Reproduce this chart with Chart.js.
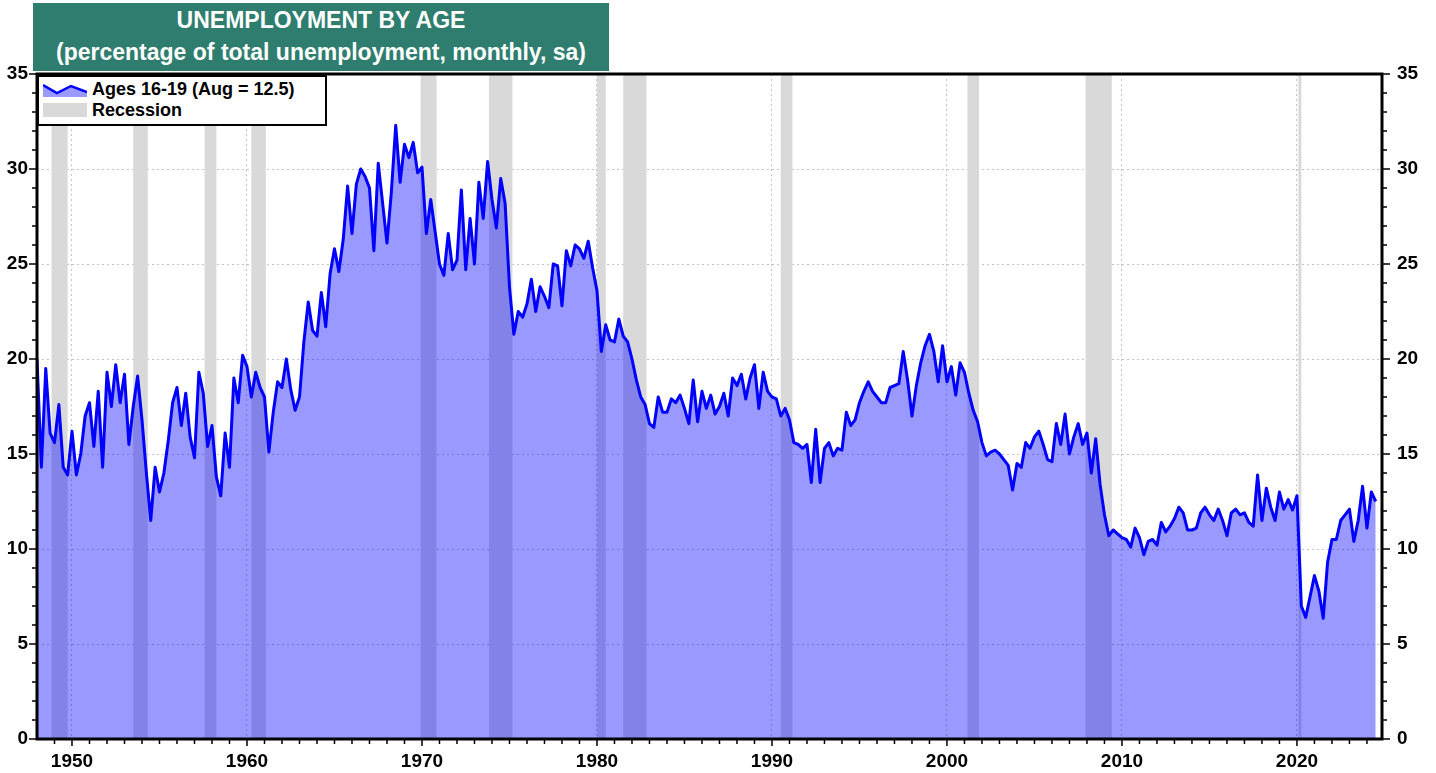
<!DOCTYPE html>
<html>
<head>
<meta charset="utf-8">
<script src="https://cdn.jsdelivr.net/npm/chart.js@4.4.1/dist/chart.umd.min.js"></script>
<style>
  html, body { margin: 0; padding: 0; background: #fff; }
  body { width: 1436px; height: 773px; position: relative; overflow: hidden; font-family: "Liberation Sans", Arial, sans-serif; }
  #chart { position: absolute; left: 0; top: 0; }
  .title { position: absolute; left: 33px; top: 3px; width: 576px; height: 68px; background: #2e7d6f; color: #fff; font-weight: bold; text-align: center; font-size: 23px; }
  .title div { position: absolute; left: 0; right: 0; line-height: 28px; }
  .legend { position: absolute; left: 37px; top: 75px; width: 286px; height: 47px; border: 2px solid #000; background: #fff; font-weight: bold; font-size: 18px; }
  .legend .row { position: absolute; left: 53px; line-height: 20px; }
</style>
</head>
<body>
<canvas id="chart" width="1436" height="773"></canvas>
<div class="title">
  <div style="top:3px;">UNEMPLOYMENT BY AGE</div>
  <div style="top:35px;">(percentage of total unemployment, monthly, sa)</div>
</div>
<div class="legend">
  <svg style="position:absolute;left:4px;top:5px" width="44" height="15">
    <polygon points="0,3 14,11 28,4 44,10 44,15 0,15" fill="rgba(0,0,255,0.4)"></polygon>
    <polyline points="0,3 14,11 28,4 44,10" fill="none" stroke="#0000ff" stroke-width="2.5"></polyline>
  </svg>
  <div class="row" style="top:2px;">Ages 16-19 (Aug = 12.5)</div>
  <div style="position:absolute;left:4px;top:26px;width:44px;height:14px;background:#d9d9d9;"></div>
  <div class="row" style="top:23px;">Recession</div>
</div>
<script>
// quarterly readings, first value is Q1 1948
const startYear = 1948;
const shares1940s = [
  20.0, 14.3, 19.5, 16.1,
  15.6, 17.6, 14.3, 13.9
];
const shares1950s = [
  16.2, 13.9, 15.0, 17.0,
  17.7, 15.4, 18.3, 14.3,
  19.3, 17.5, 19.7, 17.7,
  19.2, 15.5, 17.5, 19.1,
  16.8, 14.0, 11.5, 14.3,
  13.0, 14.0, 15.7, 17.7,
  18.5, 16.5, 18.2, 15.9,
  14.8, 19.3, 18.2, 15.4,
  16.5, 13.8, 12.8, 16.1,
  14.3, 19.0, 17.7, 20.2
];
const shares1960s = [
  19.6, 18.0, 19.3, 18.5,
  18.0, 15.1, 17.2, 18.8,
  18.5, 20.0, 18.4, 17.3,
  18.0, 20.9, 23.0, 21.5,
  21.2, 23.5, 21.7, 24.5,
  25.8, 24.6, 26.3, 29.1,
  26.6, 29.2, 30.0, 29.6,
  29.0, 25.7, 30.3, 28.2,
  26.1, 28.8, 32.3, 29.3,
  31.3, 30.6, 31.4, 29.8
];
const shares1970s = [
  30.1, 26.6, 28.4, 26.7,
  25.0, 24.4, 26.6, 24.7,
  25.2, 28.9, 24.7, 27.4,
  25.0, 29.3, 27.4, 30.4,
  28.4, 26.9, 29.5, 28.2,
  23.8, 21.3, 22.5, 22.2,
  22.9, 24.2, 22.5, 23.8,
  23.3, 22.7, 25.0, 24.9,
  22.8, 25.7, 24.9, 26.0,
  25.8, 25.3, 26.2, 24.8
];
const shares1980s = [
  23.6, 20.4, 21.8, 21.0,
  20.9, 22.1, 21.2, 20.9,
  20.0, 18.9, 18.0, 17.6,
  16.6, 16.4, 18.0, 17.2,
  17.2, 17.9, 17.7, 18.1,
  17.4, 16.6, 18.9, 16.7,
  18.3, 17.4, 18.1, 17.1,
  17.5, 18.2, 17.0, 19.0,
  18.6, 19.2, 17.9, 19.0,
  19.7, 17.4, 19.3, 18.3
];
const shares1990s = [
  18.0, 17.9, 17.0, 17.4,
  16.8, 15.6, 15.5, 15.3,
  15.5, 13.5, 16.3, 13.5,
  15.3, 15.6, 14.9, 15.3,
  15.2, 17.2, 16.5, 16.8,
  17.7, 18.3, 18.8, 18.3,
  18.0, 17.7, 17.7, 18.5,
  18.6, 18.7, 20.4, 18.9,
  17.0, 18.6, 19.8, 20.7,
  21.3, 20.4, 18.8, 20.7
];
const shares2000s = [
  18.8, 19.6, 18.1, 19.8,
  19.3, 18.2, 17.3, 16.7,
  15.6, 14.9, 15.1, 15.2,
  15.0, 14.7, 14.4, 13.1,
  14.5, 14.3, 15.6, 15.3,
  15.9, 16.2, 15.5, 14.7,
  14.6, 16.6, 15.5, 17.1,
  15.0, 15.9, 16.6, 15.5,
  16.1, 14.0, 15.8, 13.4,
  11.8, 10.7, 11.0, 10.8
];
const shares2010s = [
  10.6, 10.5, 10.1, 11.1,
  10.6, 9.7, 10.4, 10.5,
  10.2, 11.4, 10.9, 11.2,
  11.6, 12.2, 11.9, 11.0,
  11.0, 11.1, 11.9, 12.2,
  11.8, 11.5, 12.1, 11.5,
  10.7, 11.9, 12.1, 11.8,
  11.9, 11.4, 11.2, 13.9,
  11.5, 13.2, 12.2, 11.5,
  13.0, 12.1, 12.6, 12.05
];
const shares2020s = [
  12.8, 7.0, 6.4, 7.5,
  8.6, 7.8, 6.35, 9.3,
  10.5, 10.5, 11.5, 11.8,
  12.1, 10.4, 11.5, 13.3,
  11.1, 13.0, 12.5
];

const recessionStart = [1948.83, 1953.5, 1957.58, 1960.25, 1969.92, 1973.83, 1980.0, 1981.5, 1990.5, 2001.17, 2007.92, 2020.08];
const recessionEnd = [1949.75, 1954.33, 1958.25, 1961.08, 1970.83, 1975.17, 1980.5, 1982.83, 1991.17, 2001.83, 2009.42, 2020.25];

const yearTicks = [1950, 1960, 1970, 1980, 1990, 2000, 2010, 2020];
const shareTicks = [0, 5, 10, 15, 20, 25, 30, 35];

const shareValues = [].concat(shares1940s, shares1950s, shares1960s, shares1970s,
  shares1980s, shares1990s, shares2000s, shares2010s, shares2020s);
const points = shareValues.map((v, i) => ({ x: startYear + i / 4, y: v }));

const tickFont = { family: "'Liberation Sans', Arial, sans-serif", size: 19, weight: "bold" };

// grey recession bars under the series
const recessionBands = {
  id: "recessionBands",
  beforeDatasetsDraw(chart) {
    const { ctx, chartArea, scales } = chart;
    ctx.save();
    ctx.fillStyle = "#d9d9d9";
    recessionStart.forEach((s, i) => {
      const x1 = scales.x.getPixelForValue(s);
      const x2 = scales.x.getPixelForValue(recessionEnd[i]);
      ctx.fillRect(x1, chartArea.top, x2 - x1, chartArea.bottom - chartArea.top);
    });
    ctx.restore();
  },
};

// black frame plus major/minor tick marks
const frameTicks = {
  id: "frameTicks",
  afterDraw(chart) {
    const { ctx, chartArea, scales } = chart;
    const { left, right, top, bottom } = chartArea;
    ctx.save();
    ctx.strokeStyle = "#000";
    ctx.lineWidth = 1.5;
    ctx.beginPath();
    for (let yr = 1949; yr <= 2024; yr++) {
      const x = scales.x.getPixelForValue(yr);
      const len = yr % 10 === 0 ? 7 : 5;
      ctx.moveTo(x, bottom);
      ctx.lineTo(x, bottom + len);
    }
    for (let v = 0; v <= 35; v++) {
      const y = scales.y.getPixelForValue(v);
      const len = v % 5 === 0 ? 8 : 5;
      ctx.moveTo(left - len, y);
      ctx.lineTo(left, y);
      ctx.moveTo(right, y);
      ctx.lineTo(right + len, y);
    }
    ctx.stroke();
    ctx.lineWidth = 3;
    ctx.strokeRect(left, top, right - left, bottom - top);
    ctx.restore();
  },
};

new Chart(document.getElementById("chart"), {
  type: "line",
  data: {
    datasets: [
      {
        label: "Ages 16-19 (Aug = 12.5)",
        data: points,
        borderColor: "#0000ff",
        borderWidth: 3,
        borderJoinStyle: "round",
        backgroundColor: "rgba(0, 0, 255, 0.4)",
        fill: "origin",
        pointRadius: 0,
        tension: 0,
      },
    ],
  },
  options: {
    responsive: false,
    animation: false,
    events: [],
    devicePixelRatio: 1,
    layout: { padding: { top: 74, left: 0, right: 0, bottom: 0 } },
    plugins: { legend: { display: false }, tooltip: { enabled: false } },
    scales: {
      x: {
        type: "linear",
        min: 1948,
        max: 2024.86,
        afterFit: (s) => { s.height = 34; },
        afterBuildTicks: (s) => { s.ticks = yearTicks.map((v) => ({ value: v })); },
        ticks: { font: tickFont, color: "#000", padding: 11, maxRotation: 0, callback: (v) => String(v) },
        grid: { color: "#c4c4c4", lineWidth: 1, drawTicks: false },
        border: { display: false, dash: [2, 3] },
      },
      y: {
        type: "linear",
        position: "left",
        min: 0,
        max: 35,
        afterFit: (s) => { s.width = 37; },
        afterBuildTicks: (s) => { s.ticks = shareTicks.map((v) => ({ value: v })); },
        ticks: { font: tickFont, color: "#000", padding: 9, callback: (v) => String(v) },
        grid: { color: "#c4c4c4", lineWidth: 1, drawTicks: false },
        border: { display: false, dash: [2, 3] },
      },
      y2: {
        type: "linear",
        position: "right",
        min: 0,
        max: 35,
        afterFit: (s) => { s.width = 54; },
        afterBuildTicks: (s) => { s.ticks = shareTicks.map((v) => ({ value: v })); },
        ticks: { font: tickFont, color: "#000", padding: 15, callback: (v) => String(v) },
        grid: { drawOnChartArea: false, drawTicks: false },
        border: { display: false },
      },
    },
  },
  plugins: [recessionBands, frameTicks],
});
</script>
</body>
</html>
